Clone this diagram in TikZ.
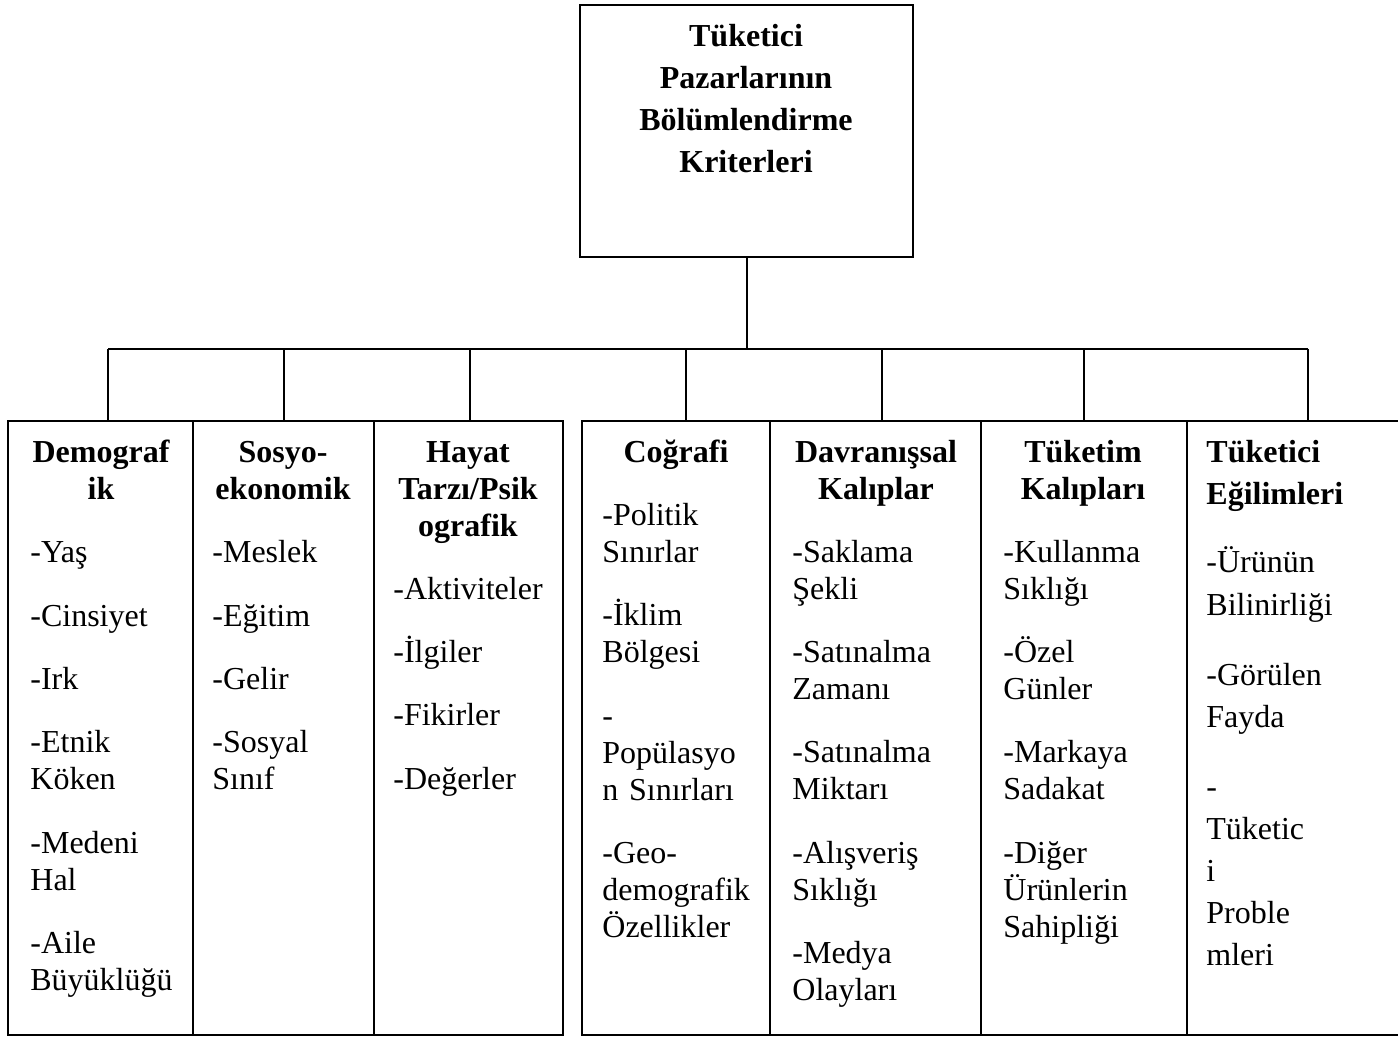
\documentclass[tikz,border=0pt]{standalone}
\usepackage{fontspec}
\setmainfont{Liberation Serif}
\usetikzlibrary{fit}
\tikzset{
  cell/.style={draw, line width=1pt, inner sep=0pt, outer sep=0pt},
  conn/.style={line width=1pt},
  hd/.style={font=\fontsize{16pt}{18.5pt}\selectfont\bfseries, inner sep=0pt, anchor=base, align=center, text width=110pt},
  hdl/.style={font=\fontsize{16pt}{21pt}\selectfont\bfseries, inner sep=0pt, anchor=base west, align=left, text width=100pt},
  itm/.style={font=\fontsize{16pt}{18.5pt}\selectfont, inner sep=0pt, anchor=base west, align=left, text width=100pt},
  itmw/.style={font=\fontsize{16pt}{21pt}\selectfont, inner sep=0pt, anchor=base west, align=left, text width=100pt},
  toptxt/.style={font=\fontsize{16pt}{21pt}\selectfont\bfseries, inner sep=0pt, anchor=base, align=center, text width=160pt}
}
\begin{document}
\begin{tikzpicture}[x=0.5pt, y=-0.5pt]
\useasboundingbox (0,0) rectangle (1398,1037);
% top box
\node[cell, fit={(580,5) (913,257)}] (top) {};
\node[toptxt] (toptitle) at (746,47) {Tüketici\\Pazarlarının\\Bölümlendirme\\Kriterleri};
% cells
\node[cell, fit={(8,421) (193,1035)}] (c1) {};
\node[cell, fit={(193,421) (374,1035)}] (c2) {};
\node[cell, fit={(374,421) (563,1035)}] (c3) {};
\node[cell, fit={(582,421) (770,1035)}] (c4) {};
\node[cell, fit={(770,421) (981,1035)}] (c5) {};
\node[cell, fit={(981,421) (1187,1035)}] (c6) {};
\node[cell, fit={(1187,421) (1402,1035)}] (c7) {};
% connectors
\coordinate (bus) at (746,349);
\coordinate (k1) at (108,421);
\coordinate (k2) at (284,421);
\coordinate (k3) at (470,421);
\coordinate (k4) at (686,421);
\coordinate (k5) at (882,421);
\coordinate (k6) at (1084,421);
\coordinate (k7) at (1308,421);
\draw[conn] (top.south) -- (top.south |- bus);
\draw[conn] (k1 |- bus) -- (k7 |- bus);
\foreach \k in {k1,k2,k3,k4,k5,k6,k7}{\draw[conn] (\k |- bus) -- (\k);}
% headers
\node[hd] (h1) at (101,463) {Demograf\\ik};
\node[hd] (h2) at (283,463) {Sosyo-\\ekonomik};
\node[hd] (h3) at (468,463) {Hayat\\Tarzı/Psik\\ografik};
\node[hd] (h4) at (676,463) {Coğrafi};
\node[hd] (h5) at (876,463) {Davranışsal\\Kalıplar};
\node[hd] (h6) at (1083,463) {Tüketim\\Kalıpları};
\node[hdl] (h7) at (1206,463) {Tüketici\\Eğilimleri};
% column 1
\node[itm] (a1) at (30,562) {-Yaş};
\node[itm] (a2) at (30,626) {-Cinsiyet};
\node[itm] (a3) at (30,689) {-Irk};
\node[itm] (a4) at (30,752) {-Etnik\\Köken};
\node[itm] (a5) at (30,853) {-Medeni\\Hal};
\node[itm] (a6) at (30,953) {-Aile\\Büyüklüğü};
% column 2
\node[itm] (b1) at (212,562) {-Meslek};
\node[itm] (b2) at (212,626) {-Eğitim};
\node[itm] (b3) at (212,689) {-Gelir};
\node[itm] (b4) at (212,752) {-Sosyal\\Sınıf};
% column 3
\node[itm] (e1) at (393,599) {-Aktiviteler};
\node[itm] (e2) at (393,662) {-İlgiler};
\node[itm] (e3) at (393,725) {-Fikirler};
\node[itm] (e4) at (393,789) {-Değerler};
% column 4
\node[itm] (f1) at (602,525) {-Politik\\Sınırlar};
\node[itm] (f2) at (602,625) {-İklim\\Bölgesi};
\node[itm] (f3) at (602,726) {-\\Popülasyo\\n Sınırları};
\node[itm] (f4) at (602,863) {-Geo-\\demografik\\Özellikler};
% column 5
\node[itm] (g1) at (792,562) {-Saklama\\Şekli};
\node[itm] (g2) at (792,662) {-Satınalma\\Zamanı};
\node[itm] (g3) at (792,762) {-Satınalma\\Miktarı};
\node[itm] (g4) at (792,863) {-Alışveriş\\Sıklığı};
\node[itm] (g5) at (792,963) {-Medya\\Olayları};
% column 6
\node[itm] (m1) at (1003,562) {-Kullanma\\Sıklığı};
\node[itm] (m2) at (1003,662) {-Özel\\Günler};
\node[itm] (m3) at (1003,762) {-Markaya\\Sadakat};
\node[itm] (m4) at (1003,863) {-Diğer\\Ürünlerin\\Sahipliği};
% column 7
\node[itmw] (n1) at (1206,573) {-Ürünün\\Bilinirliği};
\node[itmw] (n2) at (1206,685) {-Görülen\\Fayda};
\node[itmw] (n3) at (1206,797) {-\\Tüketic\\i\\Proble\\mleri};
\end{tikzpicture}
\end{document}
